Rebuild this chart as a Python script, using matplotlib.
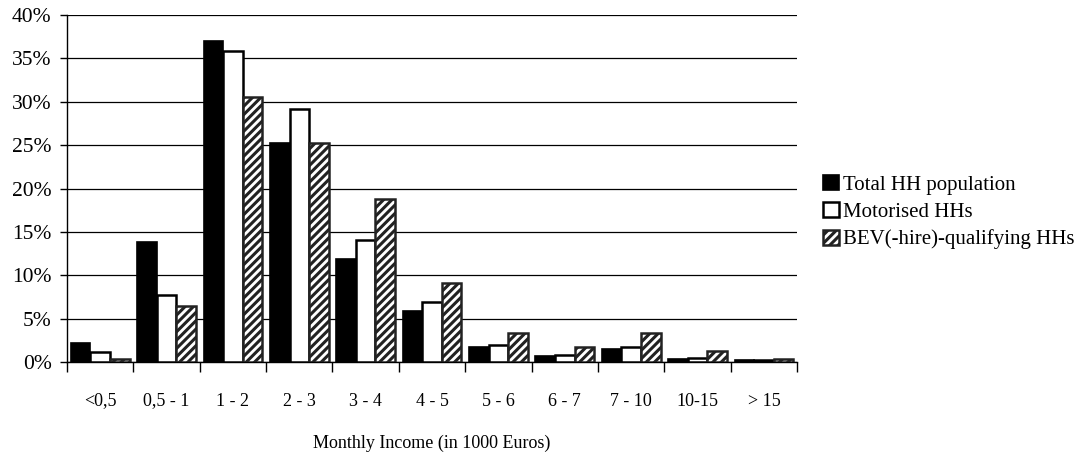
import numpy as np
import matplotlib.pyplot as plt

categories = ["<0,5", "0,5 - 1", "1 - 2", "2 - 3", "3 - 4", "4 - 5",
              "5 - 6", "6 - 7", "7 - 10", "10-15", "> 15"]
total_hh = [2.2, 13.8, 37.0, 25.3, 11.9, 5.9, 1.7, 0.7, 1.5, 0.4, 0.2]
motorised = [1.1, 7.7, 35.8, 29.2, 14.1, 6.9, 2.0, 0.85, 1.75, 0.45, 0.25]
bev = [0.3, 6.5, 30.5, 25.2, 18.8, 9.1, 3.3, 1.7, 3.3, 1.3, 0.3]

plt.rcParams['font.family'] = ['Liberation Serif', 'DejaVu Serif']
plt.rcParams['hatch.linewidth'] = 2.2

fig = plt.figure(figsize=(10.88, 4.54), dpi=100)
ax = fig.add_axes([0.0616, 0.2026, 0.671, 0.7644])

x = np.arange(len(categories))
w = 0.295
ax.bar(x - w, total_hh, w, color='black', edgecolor='black', linewidth=1.2,
       label="Total HH population", zorder=3)
ax.bar(x, motorised, w, color='white', edgecolor='black', linewidth=1.8,
       label="Motorised HHs", zorder=3)
ax.bar(x + w, bev, w, color='white', edgecolor='#222222', linewidth=1.8,
       hatch='////', label="BEV(-hire)-qualifying HHs", zorder=3)

ax.set_xlim(-0.5, len(categories) - 0.5)
ax.set_ylim(0, 40)
ax.set_yticks(np.arange(0, 41, 5))
ax.set_yticklabels([f"{v}%" for v in range(0, 41, 5)], fontsize=15.5)
ax.yaxis.grid(True, color='black', linewidth=0.9, zorder=0)
ax.tick_params(axis='y', length=5, width=1, pad=6)

ax.set_xticks(x)
ax.set_xticklabels(categories, fontsize=13)
ax.tick_params(axis='x', length=0, pad=22)
ax.set_xticks(np.arange(-0.5, len(categories) + 0.5, 1), minor=True)
ax.tick_params(axis='x', which='minor', length=7, width=1)
ax.set_xlabel("Monthly Income (in 1000 Euros)", fontsize=13, labelpad=18)

for s in ['top', 'right']:
    ax.spines[s].set_visible(False)
ax.spines['left'].set_linewidth(1)
ax.spines['bottom'].set_linewidth(1)

ax.legend(loc='center left', bbox_to_anchor=(1.0356, 0.432), frameon=False,
          fontsize=15, handlelength=0.75, handleheight=0.75, handletextpad=0.2,
          labelspacing=0.36, borderpad=0, borderaxespad=0)

fig.savefig("out.png", dpi=100)
